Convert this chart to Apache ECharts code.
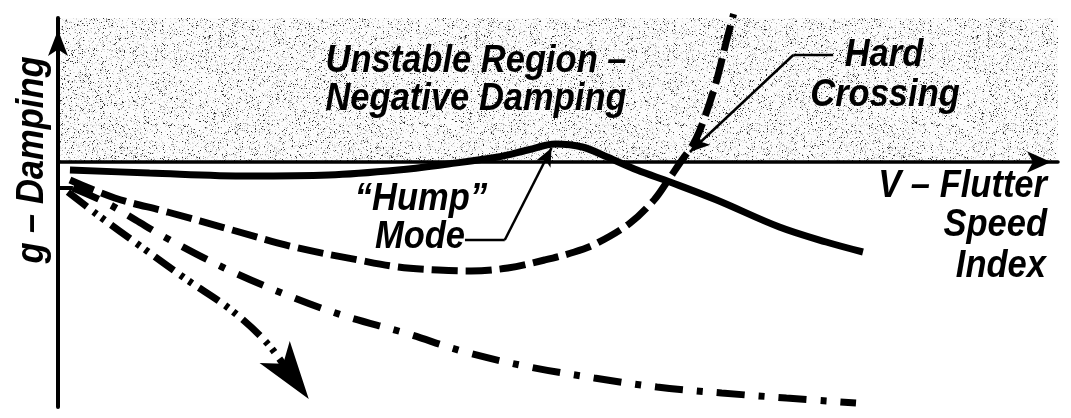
<!DOCTYPE html>
<html><head><meta charset="utf-8">
<script src="https://cdn.jsdelivr.net/npm/echarts@6/dist/echarts.min.js"></script>
<style>html,body{margin:0;padding:0;background:#fff}#c{width:1071px;height:418px}</style>
</head><body><div id="c"></div>
<script>
// x: V - flutter speed index, y: g - damping  ([v, g] pairs)
const humpMode = [[0.12,-0.08],[0.92,-0.11],[1.92,-0.14],[2.72,-0.13],[3.42,-0.08],[3.92,-0.02],[4.42,0.05],[4.72,0.12],[5.00,0.18],[5.27,0.15],[5.52,0.05],[5.82,-0.08],[6.15,-0.20],[6.62,-0.38],[7.25,-0.65],[7.72,-0.80],[8.09,-0.90]];
const hardCrossing = [[0.12,-0.18],[0.57,-0.36],[1.10,-0.50],[1.75,-0.68],[2.37,-0.85],[3.02,-0.98],[3.42,-1.05],[3.82,-1.08],[4.15,-1.09],[4.52,-1.06],[4.89,-0.98],[5.19,-0.90],[5.42,-0.81],[5.75,-0.61],[5.99,-0.38],[6.12,-0.20],[6.25,-0.01],[6.39,0.19],[6.49,0.42],[6.62,0.82],[6.72,1.22],[6.79,1.48]];
const stableMode = [[0.15,-0.26],[0.49,-0.41],[0.78,-0.58],[1.07,-0.75],[1.65,-1.05],[2.25,-1.31],[2.85,-1.53],[3.49,-1.71],[4.09,-1.90],[4.74,-2.05],[5.39,-2.16],[6.02,-2.25],[6.67,-2.31],[7.32,-2.36],[8.02,-2.41]];
const divergingMode = [[0.10,-0.30],[0.40,-0.53],[0.84,-0.85],[1.30,-1.18],[1.74,-1.48],[2.10,-1.81],[2.36,-2.16]];
const divergingArrowTip = [[2.52,-2.37]];
const startStub = [[0,-0.26],[0.15,-0.26]];
// annotation leader lines
const humpLeader = [[4.09,-0.78],[4.49,-0.78],[4.96,0.14]];
const hardLeader = [[7.79,1.07],[7.39,1.07],[6.35,0.10]];
const unstableRegion = [[0, 0], [10.05, 1.44]];
const xRange = [0, 10.05];
const yRange = [-2.45, 1.44];

// stipple texture for unstable region
const tex = document.createElement('canvas');
tex.width = 256; tex.height = 256;
(function(){
  const ctx = tex.getContext('2d');
  const img = ctx.createImageData(256, 256);
  let s = 12345;
  function rnd(){ s = (s * 1664525 + 1013904223) >>> 0; return s / 4294967296; }
  for (let i = 0; i < 256*256; i++) {
    const r = rnd();
    let v = 252;
    if (r < 0.035) v = 50;
    else if (r < 0.09) v = 160;
    else if (r < 0.20) v = 222;
    img.data[i*4] = v; img.data[i*4+1] = v; img.data[i*4+2] = v; img.data[i*4+3] = 255;
  }
  ctx.putImageData(img, 0, 0);
})();

const FONT = '"Liberation Sans", Arial, sans-serif';
function txt(text, x, y, align, extra) {
  return Object.assign({
    type: 'text', x: x, y: y, z: 100, silent: true, scaleX: 0.885,
    style: { text: text, fill: '#000', fontFamily: FONT, fontSize: 39, fontWeight: 'bold', fontStyle: 'italic',
             textAlign: align || 'center', textVerticalAlign: 'middle' }
  }, extra || {});
}

const chart = echarts.init(document.getElementById('c'), null, {renderer: 'canvas'});
const lineBase = { type: 'line', smooth: 0.35, symbol: 'none', silent: true, clip: false, z: 5,
                   emphasis: { disabled: true } };
chart.setOption({
  animation: false,
  backgroundColor: '#fff',
  grid: { left: 58, top: 18, width: 1000, height: 389, containLabel: false },
  xAxis: { type: 'value', min: xRange[0], max: xRange[1], z: 10,
    axisLine: { onZero: true, lineStyle: { color: '#000', width: 3.5 }, symbol: ['none', 'arrow'], symbolSize: [16, 24], symbolOffset: [0, -7] },
    axisTick: { show: false }, axisLabel: { show: false }, splitLine: { show: false } },
  yAxis: { type: 'value', min: yRange[0], max: yRange[1], z: 10,
    axisLine: { show: true, onZero: false, lineStyle: { color: '#000', width: 4 }, symbol: ['none', 'arrow'], symbolSize: [15, 26], symbolOffset: [0, -12] },
    axisTick: { show: false }, axisLabel: { show: false }, splitLine: { show: false } },
  series: [
    Object.assign({}, lineBase, { name: 'region', data: [], z: 1,
      markArea: { silent: true, itemStyle: { color: { image: tex, repeat: 'repeat' }, borderWidth: 0 },
        data: [[{ coord: unstableRegion[0] }, { coord: unstableRegion[1] }]] } }),
    Object.assign({}, lineBase, { name: 'Hump mode', data: humpMode,
      lineStyle: { color: '#000', width: 7 } }),
    Object.assign({}, lineBase, { name: 'Hard crossing', data: hardCrossing,
      lineStyle: { color: '#000', width: 7, type: [26, 8] } }),
    Object.assign({}, lineBase, { name: 'Stable', data: stableMode,
      lineStyle: { color: '#000', width: 7, type: [28, 14, 6, 14] } }),
    Object.assign({}, lineBase, { name: 'Diverging', data: divergingMode,
      lineStyle: { color: '#000', width: 7, type: [24, 8, 4, 6, 4, 8] } }),
    { type: 'scatter', name: 'Diverging arrow', silent: true, z: 6, data: divergingArrowTip,
      symbol: 'arrow', symbolSize: [28, 58], symbolRotate: -144,
      itemStyle: { color: '#000', opacity: 1, borderWidth: 0 }, emphasis: { disabled: true } },
    Object.assign({}, lineBase, { name: 'stub', smooth: false, data: startStub,
      lineStyle: { color: '#000', width: 4 } }),
    Object.assign({}, lineBase, { name: 'hump leader', smooth: false, data: humpLeader.slice(0, 2),
      lineStyle: { color: '#000', width: 2.5 },
      markLine: { silent: true, symbol: ['none', 'arrow'], symbolSize: [12, 18], label: { show: false },
        lineStyle: { color: '#000', width: 2.5, type: 'solid' }, emphasis: { disabled: true },
        data: [[{ coord: humpLeader[1] }, { coord: humpLeader[2] }]] } }),
    Object.assign({}, lineBase, { name: 'hard leader', smooth: false, data: hardLeader.slice(0, 2),
      lineStyle: { color: '#000', width: 2.5 },
      markLine: { silent: true, symbol: ['none', 'arrow'], symbolSize: [13, 20], label: { show: false },
        lineStyle: { color: '#000', width: 2.5, type: 'solid' }, emphasis: { disabled: true },
        data: [[{ coord: hardLeader[1] }, { coord: hardLeader[2] }]] } })
  ],
  graphic: [
    txt('Unstable Region \u2013', 476, 61),
    txt('Negative Damping', 476, 99),
    txt('Hard', 884, 55),
    txt('Crossing', 885, 95),
    txt('\u201CHump\u201D', 421, 199),
    txt('Mode', 420, 237),
    txt('V \u2013 Flutter', 1047, 186, 'right'),
    txt('Speed', 1047, 225, 'right'),
    txt('Index', 1046, 266, 'right'),
    txt('g \u2013 Damping', 32, 160, 'center', { rotation: Math.PI / 2 })
  ]
});
</script></body></html>
